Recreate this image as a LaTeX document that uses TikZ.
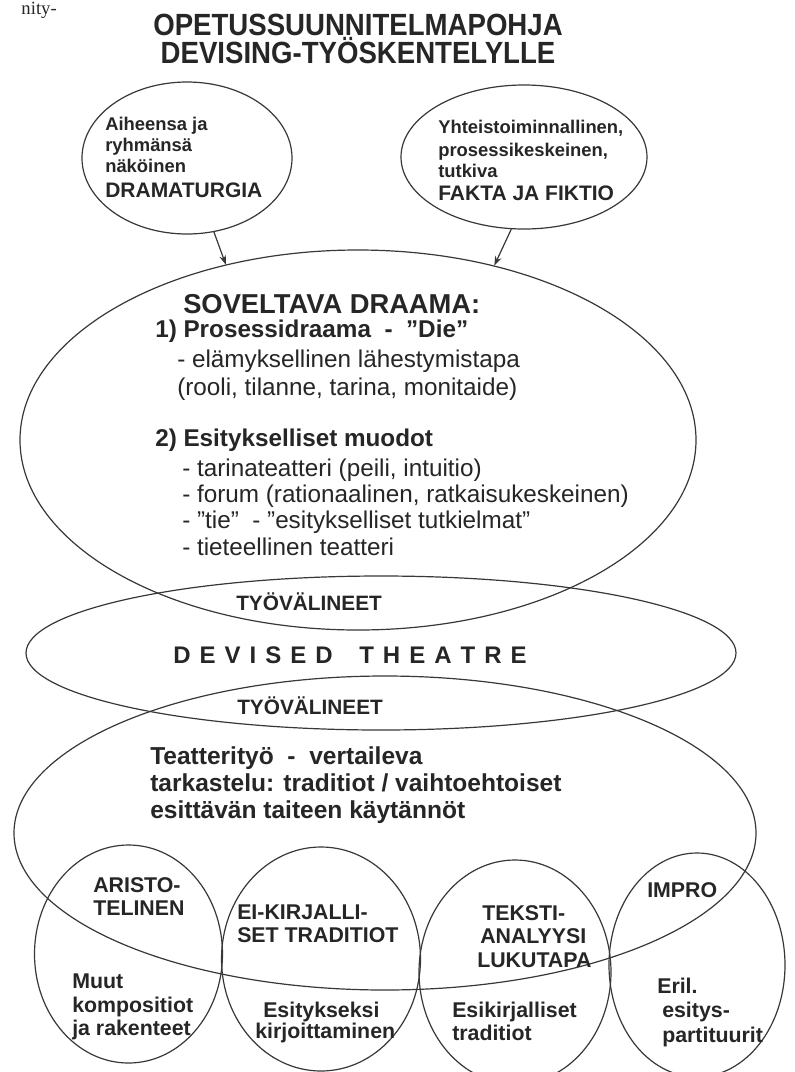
\documentclass[tikz,border=0pt]{standalone}
\usepackage{fontspec}
\setmainfont{Liberation Sans}
\newfontfamily\nityfont{Liberation Serif}
\newfontfamily\titlefont[FakeStretch=0.9]{Liberation Sans}
\usetikzlibrary{shapes.geometric,arrows.meta}
\newcommand\setfs[1]{\fontsize{#1}{#1}\selectfont}
\newcommand\lsg{\hspace{6.75pt}}
\newcommand\lsw{\hspace{20pt}}
\begin{document}
\begin{tikzpicture}[x=0.75pt,y=-0.75pt,
  shp/.style={draw=black!78, line width=0.9pt, ellipse, inner sep=0pt},
  txt/.style={anchor=base west, inner sep=0pt, text=black!85},
  ttl/.style={anchor=base, inner sep=0pt, text=black!85, font=\titlefont\bfseries\setfs{23}},
  sm/.style={txt, font=\bfseries\setfs{13.8}},
  captxt/.style={txt, font=\bfseries\setfs{15.75}},
  hd/.style={txt, font=\bfseries\setfs{20.5}},
  bb/.style={txt, font=\bfseries\setfs{18.2}},
  rg/.style={txt, font=\setfs{18.2}},
  tv/.style={txt, font=\bfseries\setfs{15.6}},
  tt/.style={txt, font=\bfseries\setfs{18.4}},
  bc/.style={txt, font=\bfseries\setfs{16}},
  arr/.style={draw=black!78, line width=0.9pt, -{Stealth[length=7pt,width=5pt]}}]
\useasboundingbox (0,0) rectangle (795,1072);
\clip (0,0) rectangle (795,1072);
\fill[white] (0,0) rectangle (795,1072);

% fragment at the top-left corner
\node[anchor=base east, inner sep=0pt, text=black!85, font=\nityfont\setfs{14}] (nity) at (57,14) {nity-};

% title
\node[ttl] (t1) at (358,35) {OPETUSSUUNNITELMAPOHJA};
\node[ttl] (t2) at (358,63) {DEVISING-TYÖSKENTELYLLE};

% ellipses
\node[shp, minimum width=157.5pt, minimum height=114pt] (dram) at (187,158) {};
\node[shp, minimum width=184.5pt, minimum height=108pt] (fakta) at (524,157) {};
\node[shp, minimum width=507pt, minimum height=285pt] (sov) at (358,440) {};
\node[shp, minimum width=532.5pt, minimum height=115.5pt] (dev) at (381,653) {};
\node[shp, minimum width=556.5pt, minimum height=235.5pt] (teat) at (385,833) {};
\node[shp, minimum width=141pt, minimum height=163.5pt] (c1) at (128.5,954) {};
\node[shp, minimum width=149.25pt, minimum height=168pt] (c2) at (321,959) {};
\node[shp, minimum width=144pt, minimum height=168pt] (c3) at (515,972) {};
\node[shp, minimum width=132pt, minimum height=168pt] (c4) at (697,965) {};

% arrows
\draw[arr] (dram.-70) -- (sov.127);
\draw[arr] (fakta.-100) -- (sov.52);

% top ellipses text
\node[sm] (a1) at (105,130) {Aiheensa ja};
\node[sm] (a2) at (105,151) {ryhmänsä};
\node[sm] (a3) at (105,172) {näköinen};
\node[captxt] (a4) at (105,197) {DRAMATURGIA};
\node[sm] (b1) at (438,133) {Yhteistoiminnallinen,};
\node[sm] (b2) at (438,156) {prosessikeskeinen,};
\node[sm] (b3) at (438,177) {tutkiva};
\node[captxt] (b4) at (438,200) {FAKTA JA FIKTIO};

% soveltava draama
\node[hd] (s0) at (183,313) {SOVELTAVA DRAAMA:};
\node[bb] (s1) at (155,337) {1) Prosessidraama~~-~~”Die”};
\node[rg] (s2) at (177,367) {- elämyksellinen lähestymistapa};
\node[rg] (s3) at (177,395) {(rooli, tilanne, tarina, monitaide)};
\node[bb] (s4) at (155,446) {2) Esitykselliset muodot};
\node[rg] (s5) at (182,476) {- tarinateatteri (peili, intuitio)};
\node[rg] (s6) at (182,502) {- forum (rationaalinen, ratkaisukeskeinen)};
\node[rg] (s7) at (182,528) {- ”tie”~~- ”esitykselliset tutkielmat”};
\node[rg] (s8) at (182,555) {- tieteellinen teatteri};

% devised theatre
\node[tv] (tv1) at (236,610) {TYÖVÄLINEET};
\node[txt, font=\bfseries\setfs{18}] (dt) at (173,663) {D\lsg E\lsg V\lsg I\lsg S\lsg E\lsg D\lsw T\lsg H\lsg E\lsg A\lsg T\lsg R\lsg E};
\node[tv] (tv2) at (237,714) {TYÖVÄLINEET};

% teatterityo
\node[tt] (p1) at (150,764) {Teatterityö~~-~~vertaileva};
\node[tt] (p2) at (150,791) {tarkastelu: traditiot / vaihtoehtoiset};
\node[tt] (p3) at (150,818) {esittävän taiteen käytännöt};

% bottom circles
\node[bc] (q1) at (93,892) {ARISTO-};
\node[bc] (q2) at (93,915) {TELINEN};
\node[bc] (q3) at (237,919) {EI-KIRJALLI-};
\node[bc] (q4) at (237,942) {SET TRADITIOT};
\node[bc] (q5) at (72,988) {Muut};
\node[bc] (q6) at (72,1012) {kompositiot};
\node[bc] (q7) at (72,1035) {ja rakenteet};
\node[bc] (q8) at (263,1017) {Esitykseksi};
\node[bc] (q9) at (255,1038) {kirjoittaminen};
\node[bc] (r1) at (482,920) {TEKSTI-};
\node[bc] (r2) at (480,943) {ANALYYSI};
\node[bc] (r3) at (477,967) {LUKUTAPA};
\node[bc] (r4) at (452,1017) {Esikirjalliset};
\node[bc] (r5) at (452,1040) {traditiot};
\node[bc] (r6) at (647,897) {IMPRO};
\node[bc] (r7) at (657,993) {Eril.};
\node[bc] (r8) at (662,1017) {esitys-};
\node[bc] (r9) at (662,1042) {partituurit};
\end{tikzpicture}
\end{document}
